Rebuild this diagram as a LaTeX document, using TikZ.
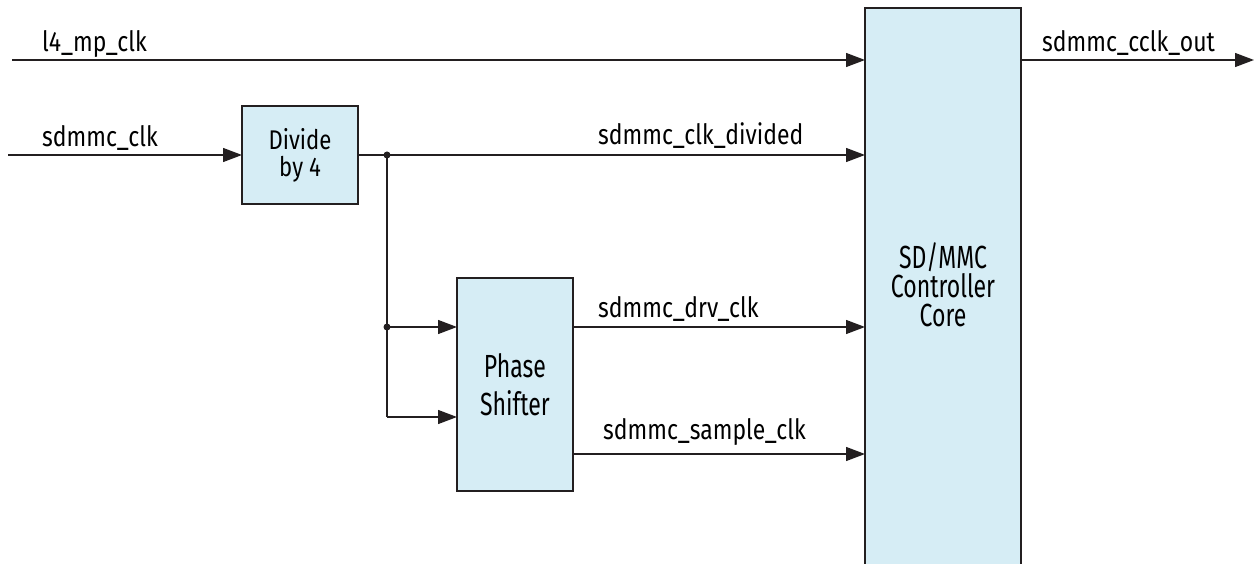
\documentclass[tikz,border=0pt]{standalone}
\usepackage{fontspec}
\setmainfont[FakeStretch=0.82]{Fira Sans}
\newfontfamily\bigfont[FakeStretch=0.72]{Fira Sans}
\usetikzlibrary{arrows.meta}
\definecolor{boxfill}{RGB}{214,237,245}
\definecolor{lineclr}{RGB}{35,31,32}
\begin{document}
\begin{tikzpicture}[x=1pt,y=-1pt,
 blk/.style={draw=lineclr, fill=boxfill, line width=1.3pt, inner sep=0pt, outer sep=0pt, align=center},
 wire/.style={draw=lineclr, line width=1.3pt},
 arr/.style={wire, -{Triangle[length=19pt,width=14pt]}},
 lbl/.style={font=\fontsize{28}{30}\selectfont, anchor=base west, inner sep=0pt},
 jdot/.style={circle, fill=lineclr, inner sep=0pt, minimum size=7pt}]
\useasboundingbox (0,0) rectangle (1254,564);
% blocks
\node[blk, minimum width=156pt, minimum height=570pt, anchor=north west] (core) at (865,8) {};
\node[font=\bigfont\fontsize{32}{29}\selectfont, align=center, inner sep=0pt] (coretxt) at (943,285) {SD/MMC\\Controller\\Core};
\node[blk, minimum width=116pt, minimum height=98pt, anchor=north west, font=\fontsize{27}{27}\selectfont] (div) at (242,106) {Divide\\by 4};
\node[blk, minimum width=116pt, minimum height=213pt, anchor=north west, font=\bigfont\fontsize{32}{38}\selectfont] (ps) at (457,278) {Phase\\Shifter};
% coordinates
\coordinate (l4in) at (12,60);
\coordinate (clkin) at (8,155);
\coordinate (out) at (1254,60);
\node[jdot] (j1) at (387,155) {};
\node[jdot] (j2) at (387,327) {};
\coordinate (j3) at (387,417);
\coordinate (smp) at (573,454);
% wires
\draw[arr] (l4in) -- (core.west |- l4in);
\draw[arr] (clkin) -- (div.west |- clkin);
\draw[arr] (div.east |- j1) -- (core.west |- j1);
\draw[wire] (j1.center) -- (j3);
\draw[arr] (j2.center) -- (ps.west |- j2);
\draw[arr] (j3) -- (ps.west |- j3);
\draw[arr] (ps.east |- j2) -- (core.west |- j2);
\draw[arr] (smp) -- (core.west |- smp);
\draw[arr] (core.east |- out) -- (out);
% labels
\node[lbl] (t1) at (42,52) {l4\_mp\_clk};
\node[lbl] (t2) at (42,147) {sdmmc\_clk};
\node[lbl] (t3) at (598,145) {sdmmc\_clk\_divided};
\node[lbl] (t4) at (598,318) {sdmmc\_drv\_clk};
\node[lbl] (t5) at (603,439) {sdmmc\_sample\_clk};
\node[lbl] (t6) at (1042,52) {sdmmc\_cclk\_out};
\end{tikzpicture}
\end{document}
